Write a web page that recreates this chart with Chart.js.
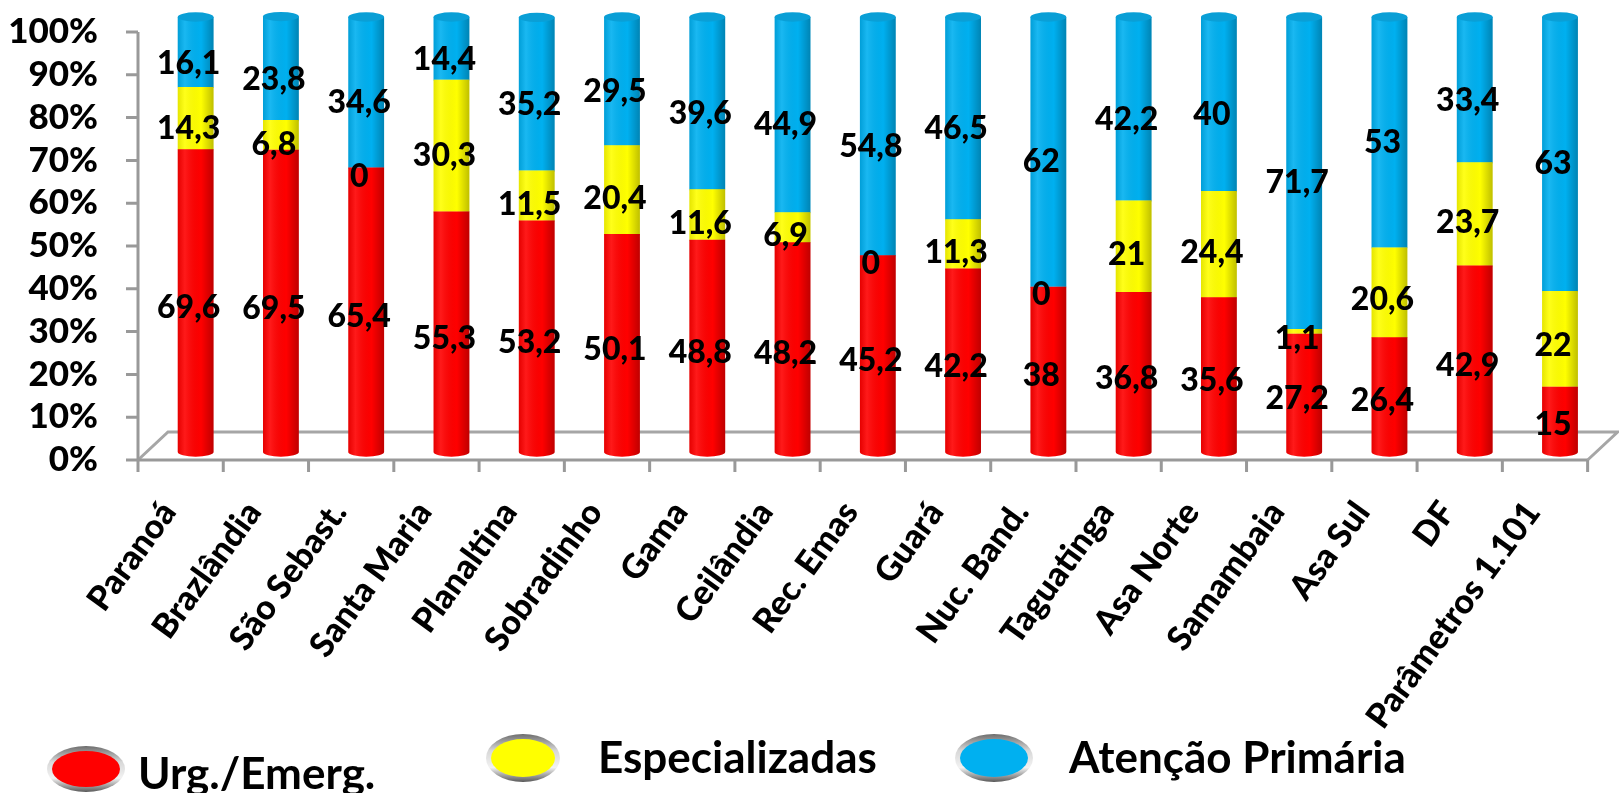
<!DOCTYPE html>
<html>
<head>
    <meta charset="utf-8">
    <title>Distribuição por tipo de atendimento</title>
    <style>
        body {
            margin: 0;
            padding: 0;
            background-color: #FFFFFF;
        }

        #chart-container {
            width: 1619px;
            height: 793px;
        }
    </style>
</head>
<body>
    <div id="chart-container">
        <canvas id="chart" width="1619" height="793"></canvas>
    </div>

    <script src="https://cdn.jsdelivr.net/npm/chart.js"></script>
    <script>
        var regioes = ['Paranoá', 'Brazlândia', 'São Sebast.', 'Santa Maria', 'Planaltina', 'Sobradinho', 'Gama',
            'Ceilândia', 'Rec. Emas', 'Guará', 'Nuc. Band.', 'Taguatinga', 'Asa Norte', 'Samambaia', 'Asa Sul', 'DF',
            'Parâmetros 1.101'];
        var urgencia = [69.6, 69.5, 65.4, 55.3, 53.2, 50.1, 48.8, 48.2, 45.2, 42.2, 38, 36.8, 35.6, 27.2, 26.4, 42.9, 15];
        var especializadas = [14.3, 6.8, 0, 30.3, 11.5, 20.4, 11.6, 6.9, 0, 11.3, 0, 21, 24.4, 1.1, 20.6, 23.7, 22];
        var atencaoPrimaria = [16.1, 23.8, 34.6, 14.4, 35.2, 29.5, 39.6, 44.9, 54.8, 46.5, 62, 42.2, 40, 71.7, 53, 33.4, 63];
        var series = ['Urg./Emerg.', 'Especializadas', 'Atenção Primária'];
        var cores = ['#FF0000', '#FFFF00', '#00B0F0'];

        var FONT = "Lato, Calibri, 'Open Sans', sans-serif";

        // the cylinders stand a bit behind the front plane of the floor
        var DEPTH_X = 15;
        var BACK_X = 30, BACK_Y = 28;
        var BAR_MIN = -1.84, BAR_MAX = 96.55;

        function shadeOverlay(ctx, l, r) {
            var g = ctx.createLinearGradient(l, 0, r, 0);
            g.addColorStop(0, 'rgba(0,0,0,0.10)');
            g.addColorStop(0.2, 'rgba(255,255,255,0.10)');
            g.addColorStop(0.65, 'rgba(0,0,0,0)');
            g.addColorStop(1, 'rgba(0,0,0,0.25)');
            return g;
        }

        // floor, axis lines and tick marks
        var floorPlugin = {
            id: 'floor',
            beforeDatasetsDraw: function(chart) {
                var ctx = chart.ctx, a = chart.chartArea, yS = chart.scales.y;
                var y0 = yS.getPixelForValue(0);
                var left = a.left - DEPTH_X, right = a.right - DEPTH_X;
                var step = (right - left) / regioes.length;
                ctx.save();
                ctx.strokeStyle = '#A6A6A6';
                ctx.lineWidth = 3;
                ctx.beginPath();
                ctx.moveTo(left, y0);
                ctx.lineTo(left + BACK_X, y0 - BACK_Y);
                ctx.lineTo(right + BACK_X, y0 - BACK_Y);
                ctx.lineTo(right, y0);
                ctx.stroke();

                ctx.strokeStyle = '#999999';
                ctx.beginPath();
                ctx.moveTo(left, yS.getPixelForValue(100));
                ctx.lineTo(left, y0);
                for (var v = 0; v <= 100; v += 10) {
                    var ty = yS.getPixelForValue(v);
                    ctx.moveTo(left - 12, ty);
                    ctx.lineTo(left, ty);
                }
                ctx.moveTo(left - 12, y0);
                ctx.lineTo(right, y0);
                for (var i = 0; i <= regioes.length; i++) {
                    var tx = left + i * step;
                    ctx.moveTo(tx, y0);
                    ctx.lineTo(tx, y0 + 12);
                }
                ctx.stroke();
                ctx.restore();
            }
        };

        // rounded bottoms, shading and top caps of the cylinders
        var cylinderPlugin = {
            id: 'cylinder',
            afterDatasetDraw: function(chart, args) {
                var ctx = chart.ctx;
                var cor = cores[args.index];
                var ultimo = args.index === chart.data.datasets.length - 1;
                ctx.save();
                args.meta.data.forEach(function(bar) {
                    var p = bar.getProps(['x', 'y', 'base', 'width'], true);
                    if (Math.abs(p.base - p.y) < 0.5) return;
                    var rx = p.width / 2, ry = p.width * 0.13;
                    var l = p.x - rx, r = p.x + rx;

                    ctx.fillStyle = cor;
                    ctx.beginPath();
                    ctx.ellipse(p.x, p.base, rx, ry, 0, 0, Math.PI);
                    ctx.fill();

                    ctx.fillStyle = shadeOverlay(ctx, l, r);
                    ctx.beginPath();
                    ctx.moveTo(r, p.y);
                    ctx.lineTo(l, p.y);
                    ctx.lineTo(l, p.base);
                    ctx.ellipse(p.x, p.base, rx, ry, 0, Math.PI, 0, true);
                    ctx.closePath();
                    ctx.fill();

                    if (ultimo) {
                        ctx.fillStyle = '#0A9FD6';
                        ctx.beginPath();
                        ctx.ellipse(p.x, p.y, rx, ry, 0, 0, Math.PI * 2);
                        ctx.fill();
                    }
                });
                ctx.restore();
            }
        };

        // value labels, placed on the front plane
        var valuePlugin = {
            id: 'values',
            afterDatasetsDraw: function(chart) {
                var ctx = chart.ctx, yS = chart.scales.y;
                var datasets = chart.data.datasets;
                ctx.save();
                ctx.fillStyle = '#000000';
                ctx.font = '900 32px ' + FONT;
                ctx.textAlign = 'center';
                ctx.textBaseline = 'middle';
                datasets.forEach(function(ds, i) {
                    var meta = chart.getDatasetMeta(i);
                    ds.data.forEach(function(v, j) {
                        var abaixo = 0;
                        for (var k = 0; k < i; k++) abaixo += datasets[k].data[j];
                        var y = yS.getPixelForValue(abaixo + v / 2) - 3;
                        ctx.fillText(String(v).replace('.', ','), meta.data[j].x - 7, y);
                    });
                });
                ctx.restore();
            }
        };

        // legend keys as metal-rimmed ovals
        var legendPos = [
            { cx: 86, cy: 769, rx: 39, ry: 23, tx: 138, ty: 789 },
            { cx: 523, cy: 758, rx: 37, ry: 24, tx: 598, ty: 773 },
            { cx: 994, cy: 758, rx: 39, ry: 24, tx: 1069, ty: 773 }
        ];
        var legendPlugin = {
            id: 'ovalLegend',
            afterDraw: function(chart) {
                var ctx = chart.ctx;
                ctx.save();
                chart.data.datasets.forEach(function(ds, i) {
                    var p = legendPos[i];
                    var rim = ctx.createLinearGradient(0, p.cy - p.ry, 0, p.cy + p.ry);
                    rim.addColorStop(0, '#6E6E6E');
                    rim.addColorStop(0.35, '#D8D8D8');
                    rim.addColorStop(0.7, '#F2F2F2');
                    rim.addColorStop(1, '#5A5A5A');
                    ctx.fillStyle = rim;
                    ctx.beginPath();
                    ctx.ellipse(p.cx, p.cy, p.rx, p.ry, 0, 0, Math.PI * 2);
                    ctx.fill();
                    ctx.fillStyle = ds.backgroundColor;
                    ctx.beginPath();
                    ctx.ellipse(p.cx, p.cy, p.rx - 5, p.ry - 5, 0, 0, Math.PI * 2);
                    ctx.fill();

                    ctx.fillStyle = '#000000';
                    ctx.font = 'bold 44px ' + FONT;
                    ctx.textAlign = 'left';
                    ctx.textBaseline = 'alphabetic';
                    ctx.fillText(ds.label, p.tx, p.ty);
                });
                ctx.restore();
            }
        };

        var ctx = document.getElementById('chart').getContext('2d');
        var chart = new Chart(ctx, {
            type: 'bar',
            data: {
                labels: regioes,
                datasets: [
                    { label: series[0], data: urgencia, backgroundColor: cores[0] },
                    { label: series[1], data: especializadas, backgroundColor: cores[1] },
                    { label: series[2], data: atencaoPrimaria, backgroundColor: cores[2] }
                ].map(function(d) {
                    d.yAxisID = 'yb';
                    d.clip = false;
                    d.borderWidth = 0;
                    d.categoryPercentage = 1;
                    d.barPercentage = 0.42;
                    return d;
                })
            },
            options: {
                responsive: false,
                animation: false,
                layout: {
                    padding: { top: 32, bottom: 43, left: 0, right: 0 }
                },
                scales: {
                    x: {
                        stacked: true,
                        grid: { display: false },
                        border: { display: false },
                        ticks: {
                            autoSkip: false,
                            minRotation: 54,
                            maxRotation: 54,
                            labelOffset: -27,
                            padding: 26,
                            color: '#000000',
                            font: { family: FONT, size: 34, weight: '900' }
                        },
                        afterFit: function(scale) { scale.height = 290; }
                    },
                    y: {
                        position: 'left',
                        min: 0,
                        max: 100,
                        grid: { display: false },
                        border: { display: false },
                        ticks: {
                            stepSize: 10,
                            autoSkip: false,
                            padding: 47,
                            color: '#000000',
                            font: { family: FONT, size: 35, weight: '900' },
                            callback: function(v) { return v + '%'; }
                        },
                        afterFit: function(scale) {
                            scale.width = 153;
                            scale.paddingTop = 0;
                            scale.paddingBottom = 0;
                        }
                    },
                    yb: {
                        stacked: true,
                        display: false,
                        min: BAR_MIN,
                        max: BAR_MAX
                    }
                },
                plugins: {
                    legend: { display: false },
                    tooltip: { enabled: false }
                }
            },
            plugins: [floorPlugin, cylinderPlugin, valuePlugin, legendPlugin]
        });
    </script>
</body>
</html>
